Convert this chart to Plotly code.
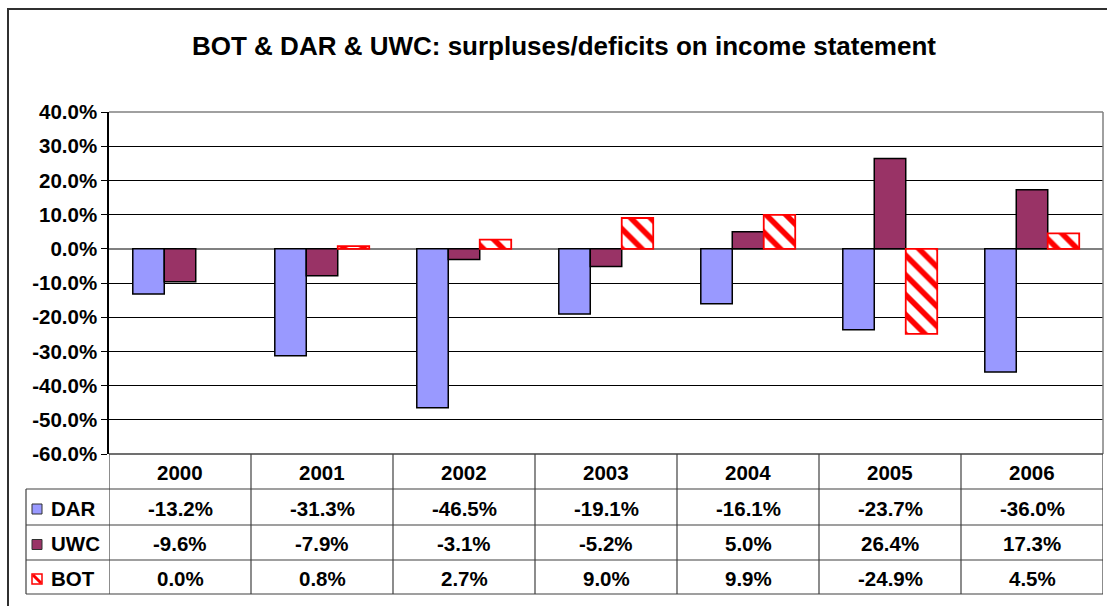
import plotly.graph_objects as go

years = ["2000", "2001", "2002", "2003", "2004", "2005", "2006"]
dar = [-13.2, -31.3, -46.5, -19.1, -16.1, -23.7, -36.0]
uwc = [-9.6, -7.9, -3.1, -5.2, 5.0, 26.4, 17.3]
bot = [0.0, 0.8, 2.7, 9.0, 9.9, -24.9, 4.5]
series_names = ["DAR", "UWC", "BOT"]
y_ticks = [40, 30, 20, 10, 0, -10, -20, -30, -40, -50, -60]
title_text = "BOT & DAR & UWC: surpluses/deficits on income statement"

W, H = 1107, 606
ML, MR, MT, MB = 109, 4, 112, 152
PW, PH = W - ML - MR, H - MT - MB
FONT = "Arial, Liberation Sans, sans-serif"

def X(px):
    return (px - ML) / PW

def Y(py):
    return (H - MB - py) / PH

xs = list(range(len(years)))
fig = go.Figure()
fig.add_trace(go.Bar(x=xs, y=dar, name="DAR",
                     marker=dict(color="#9999FF", line=dict(color="black", width=1.5))))
fig.add_trace(go.Bar(x=xs, y=uwc, name="UWC",
                     marker=dict(color="#993366", line=dict(color="black", width=1.5))))
fig.add_trace(go.Bar(x=xs, y=bot, name="BOT",
                     marker=dict(color="white",
                                 line=dict(color="#FF0000", width=[0 if v == 0 else 1.8 for v in bot]),
                                 pattern=dict(shape="\\", fgcolor="#FF0000", bgcolor="white",
                                              fgopacity=1, fillmode="overlay",
                                              size=14, solidity=0.4))))

shapes = []
annotations = []

# outer chart border
shapes.append(dict(type="rect", xref="paper", yref="paper", x0=X(8), x1=X(1112), y0=Y(9), y1=Y(612),
                   line=dict(color="#303030", width=2), layer="below"))
# plot area border (top/right grey)
shapes.append(dict(type="line", xref="paper", yref="paper", x0=0, x1=1, y0=1, y1=1,
                   line=dict(color="#808080", width=1.5)))
shapes.append(dict(type="line", xref="paper", yref="paper", x0=1, x1=1, y0=0, y1=1,
                   line=dict(color="#808080", width=1.5)))

# table geometry (pixel rows)
row_edges = [454, 489, 525, 560, 594]
left_px = 26
tcol = "#404040"
shapes.append(dict(type="line", xref="paper", yref="paper", x0=0, x1=1, y0=Y(row_edges[0]), y1=Y(row_edges[0]),
                   line=dict(color=tcol, width=1.5)))
for r in row_edges[1:]:
    shapes.append(dict(type="line", xref="paper", yref="paper", x0=X(left_px), x1=1, y0=Y(r), y1=Y(r),
                       line=dict(color=tcol, width=1.2)))
shapes.append(dict(type="line", xref="paper", yref="paper", x0=X(left_px), x1=X(left_px),
                   y0=Y(row_edges[1]), y1=Y(row_edges[-1]), line=dict(color=tcol, width=1.2)))
for i in range(len(years) + 1):
    xb = i - 0.5
    shapes.append(dict(type="line", xref="x", yref="paper", x0=xb, x1=xb,
                       y0=Y(row_edges[0]), y1=Y(row_edges[-1]), line=dict(color=tcol, width=1.2)))

tfont = dict(family=FONT, size=20.5, color="black")
for i, yr in enumerate(years):
    annotations.append(dict(x=i, y=Y((row_edges[0] + row_edges[1]) / 2 + 1), xref="x", yref="paper",
                            xanchor="center", yanchor="middle",
                            text=f"<b>{yr}</b>", showarrow=False, font=tfont))
series_vals = [dar, uwc, bot]
for k, (nm, vals) in enumerate(zip(series_names, series_vals)):
    yc = (row_edges[k + 1] + row_edges[k + 2]) / 2 + 1
    for i, v in enumerate(vals):
        annotations.append(dict(x=i, y=Y(yc), xref="x", yref="paper", xanchor="center", yanchor="middle",
                                text=f"<b>{v:.1f}%</b>", showarrow=False, font=tfont))
    annotations.append(dict(x=X(49), y=Y(yc), xref="paper", yref="paper", xanchor="left", yanchor="middle",
                            text=f"<b>{nm}</b>", showarrow=False, font=tfont))
    y0, y1 = Y(yc - 4), Y(yc + 6)
    if nm == "DAR":
        shapes.append(dict(type="rect", xref="paper", yref="paper", x0=X(32), x1=X(42), y0=y0, y1=y1,
                           fillcolor="#9999FF", line=dict(color="#303030", width=1)))
    elif nm == "UWC":
        shapes.append(dict(type="rect", xref="paper", yref="paper", x0=X(32), x1=X(42), y0=y0, y1=y1,
                           fillcolor="#993366", line=dict(color="#303030", width=1)))
    else:
        shapes.append(dict(type="rect", xref="paper", yref="paper", x0=X(32), x1=X(42), y0=y0, y1=y1,
                           fillcolor="white", line=dict(color="#FF0000", width=1.5)))
        shapes.append(dict(type="path", xref="paper", yref="paper",
                           path=f"M {X(33)},{Y(yc-3)} L {X(41)},{Y(yc+5)}",
                           line=dict(color="#FF0000", width=3)))

annotations.append(dict(x=X(564), y=Y(46), xref="paper", yref="paper", xanchor="center", yanchor="middle",
                        text=f"<b>{title_text}</b>",
                        showarrow=False, font=dict(family=FONT, size=26, color="black")))

fig.update_layout(
    width=W, height=H,
    margin=dict(l=ML, r=MR, t=MT, b=MB, pad=0),
    paper_bgcolor="white", plot_bgcolor="white",
    barmode="group", bargap=0.335, bargroupgap=0,
    showlegend=False,
    shapes=shapes, annotations=annotations,
    xaxis=dict(range=[-0.5, len(years) - 0.5], showticklabels=False, showgrid=False,
               zeroline=False, showline=False, ticks=""),
    yaxis=dict(range=[-60, 40], tickmode="array", tickvals=y_ticks,
               ticktext=[f"{t:.1f}%" for t in y_ticks],
               showgrid=True, gridcolor="black", gridwidth=1,
               zeroline=True, zerolinecolor="#808080", zerolinewidth=2,
               showline=True, linecolor="black", linewidth=1.5,
               ticks="outside", ticklen=6, tickcolor="black",
               tickfont=dict(family=FONT, size=20.5, color="black", weight="bold")),
    font=dict(family=FONT),
)

fig.write_html("out.html", config={"displayModeBar": False},
               post_script="document.body.style.margin='0';")
